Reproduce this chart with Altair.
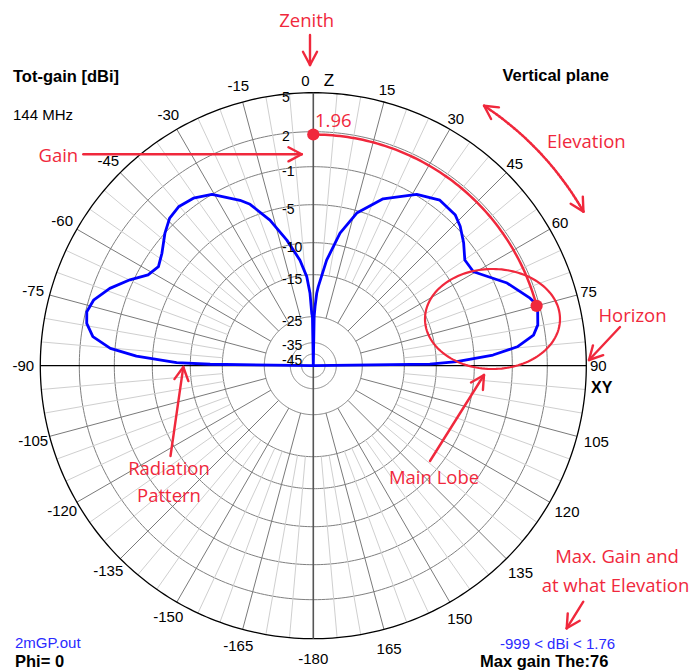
import math
import numpy as np
import pandas as pd
import altair as alt

# ---------------- data ----------------
# EZNEC log-scale rings (dBi) and their radius in pixels
RING_DBI = [5, 2, -1, -5, -10, -15, -25, -35, -45]
RING_PX = [273, 234, 199, 161, 123, 91, 49, 23, 11.7]

# Elevation pattern (angle from zenith, degrees; gain dBi), left half
ANG_LEFT = [-90, -89.2, -88.7, -86.9, -85.1, -82.5, -79.4, -76.6, -73.4, -69.2,
            -64.9, -61.2, -57.4, -53.4, -48.2, -44.2, -40.3, -35.6, -30.6, -23.9,
            -21.4, -16.6, -11.9, -7.2, -4.2, -2.6, -1.7, -1.0, 0]
GAIN_LEFT = [-999, -13.1, -8.2, -3.3, -0.6, 1.0, 1.7, 1.9, 1.6, 0.6,
             -0.7, -2.1, -2.6, -2.1, -1.0, -0.4, -0.2, -0.4, -1.0, -2.9,
             -3.7, -6.2, -9.3, -12.6, -15.4, -19.4, -24.2, -25.0, -999]
# right half
ANG_RIGHT = [1.0, 1.7, 2.7, 3.6, 7.2, 11.4, 15.9, 22.7, 31.1, 37.4, 43.2, 46.5,
             50.7, 55.1, 59.6, 66.9, 72.7, 75.0, 79.7, 82.1, 84.7, 86.6, 88.4,
             89.2, 90]
GAIN_RIGHT = [-25.0, -22.6, -19.4, -17.8, -12.6, -8.4, -5.3, -2.9, -0.9, -0.2, -0.3, -0.7,
              -1.5, -2.5, -2.4, 0.0, 1.4, 1.85, 1.5, 1.0, -0.5, -3.0, -7.3,
              -11.0, -999]

ANGLE_TICKS = [15, 30, 45, 60, 75, 90, 105, 120, 135, 150, 165, 180,
               -165, -150, -135, -120, -105, -90, -75, -60, -45, -30, -15]
MAX_GAIN = 1.76
MAX_GAIN_ANGLE = 75.0

# ---------------- layout ----------------
W, H = 683, 663
CX, CY = 313.3, 365.7          # page position of the pole
XDOM = [8 - CX, 8 + W - CX]
YDOM = [CY - 8 - H, CY - 8]
RED = "#f0283c"
BLUE = "#0000ff"
SANS = "Liberation Sans"
ANNO = "Open Sans"
RING_LABEL_DY = {-35: 7, -45: 11}   # the two innermost labels sit a little lower/higher


def db_to_r(db):
    xp = [-999] + RING_DBI[::-1]
    fp = [0] + RING_PX[::-1]
    return np.interp(db, xp, fp)


def polar(theta_deg, r):
    t = np.radians(theta_deg)
    return r * np.sin(t), r * np.cos(t)


def P(x, y):
    """page pixel -> chart coordinates"""
    return x - CX, CY - y


X = alt.X("x:Q", scale=alt.Scale(domain=XDOM, nice=False, zero=False), axis=None)
Y = alt.Y("y:Q", scale=alt.Scale(domain=YDOM, nice=False, zero=False), axis=None)

layers = []

# ---------------- grid ----------------
R_OUT = db_to_r(5)
ring_rows = []
for k, db in enumerate(RING_DBI):
    r = db_to_r(db)
    for i, t in enumerate(range(0, 361)):
        x, y = polar(t, r)
        ring_rows.append({"x": x, "y": y, "g": k, "i": i})
rings = pd.DataFrame(ring_rows)
layers.append(alt.Chart(rings[rings.g > 0]).mark_line(color="#808080", strokeWidth=1)
              .encode(X, Y, detail="g:N", order="i:Q"))

spk = []
for a in range(0, 360, 5):
    if a % 90 == 0:
        continue
    r1 = db_to_r(-25) if a % 15 == 0 else db_to_r(-15)
    x1, y1 = polar(a, r1)
    x2, y2 = polar(a, R_OUT)
    spk.append({"x": x1, "y": y1, "x2": x2, "y2": y2, "dark": a % 15 == 0})
spk = pd.DataFrame(spk)
layers.append(alt.Chart(spk[~spk.dark]).mark_rule(color="#cfcfcf", strokeWidth=1)
              .encode(X, Y, x2="x2:Q", y2="y2:Q"))
layers.append(alt.Chart(spk[spk.dark]).mark_rule(color="#7a7a7a", strokeWidth=1)
              .encode(X, Y, x2="x2:Q", y2="y2:Q"))
layers.append(alt.Chart(rings[rings.g == 0]).mark_line(color="#000000", strokeWidth=1.3)
              .encode(X, Y, detail="g:N", order="i:Q"))
layers.append(alt.Chart(pd.DataFrame([{"x": 0, "y": -R_OUT, "x2": 0, "y2": R_OUT}]))
              .mark_rule(color="#555555", strokeWidth=1.6).encode(X, Y, x2="x2:Q", y2="y2:Q"))
layers.append(alt.Chart(pd.DataFrame([{"x": -R_OUT, "y": 0, "x2": R_OUT, "y2": 0}]))
              .mark_rule(color="#000000", strokeWidth=1.2).encode(X, Y, x2="x2:Q", y2="y2:Q"))

# ---------------- pattern ----------------
ang = ANG_LEFT + ANG_RIGHT
gain = GAIN_LEFT + GAIN_RIGHT
px, py = polar(np.array(ang), db_to_r(np.array(gain)))
pat = pd.DataFrame({"x": px, "y": py, "i": range(len(ang))})
layers.append(alt.Chart(pat).mark_line(color=BLUE, strokeWidth=2.8, strokeJoin="round")
              .encode(X, Y, order="i:Q"))

# ---------------- red annotations: arc, ellipse, dots ----------------
r_max = db_to_r(MAX_GAIN)
arc_t = np.linspace(0, MAX_GAIN_ANGLE, 80)
ax_, ay_ = polar(arc_t, r_max)
layers.append(alt.Chart(pd.DataFrame({"x": ax_, "y": ay_, "i": range(80)}))
              .mark_line(color=RED, strokeWidth=2.5).encode(X, Y, order="i:Q"))

ecx, ecy = P(492.5, 319.0)
tt = np.linspace(0, 2 * np.pi, 150)
layers.append(alt.Chart(pd.DataFrame({"x": ecx + 67.5 * np.cos(tt), "y": ecy + 50 * np.sin(tt),
                                      "i": range(150)}))
              .mark_line(color=RED, strokeWidth=2.2).encode(X, Y, order="i:Q"))

dx0, dy0 = polar(np.array([0.0, MAX_GAIN_ANGLE]), r_max)
layers.append(alt.Chart(pd.DataFrame({"x": dx0, "y": dy0}))
              .mark_point(color=RED, filled=True, opacity=1, size=150, shape="circle")
              .encode(X, Y))


# arrows (page coordinates)
def head(tip, prev, L=15.0, a=28.0):
    ddx, ddy = tip[0] - prev[0], tip[1] - prev[1]
    n = math.hypot(ddx, ddy)
    ux, uy = ddx / n, ddy / n
    out = []
    for s in (1, -1):
        an = math.radians(s * a)
        rx = ux * math.cos(an) - uy * math.sin(an)
        ry = ux * math.sin(an) + uy * math.cos(an)
        out.append((tip[0] - L * rx, tip[1] - L * ry))
    return out


segs = []


def seg(p, q):
    x1, y1 = P(*p)
    x2, y2 = P(*q)
    segs.append({"x": x1, "y": y1, "x2": x2, "y2": y2})


ARROWS = [((310, 35), (310, 65)),          # Zenith
          ((83.3, 154.3), (301.7, 154.3)),  # Gain
          ((620, 327), (589, 360)),         # Horizon
          ((430, 461), (484, 375)),         # Main Lobe
          ((170.5, 456), (183.3, 367)),     # Radiation pattern
          ((583.3, 601.7), (566.7, 628.3))]  # Max gain
for tail, tip in ARROWS:
    seg(tail, tip)
    for h in head(tip, tail):
        seg(tip, h)

# curved Elevation arrow (arc around the pole)
el_t = np.linspace(33.3, 60.3, 40)
ex, ey = polar(el_t, 311.0)
el_page = [(CX + a, CY - b) for a, b in zip(ex, ey)]
for p, q in zip(el_page[:-1], el_page[1:]):
    seg(p, q)
for h in head(el_page[0], el_page[2]):
    seg(el_page[0], h)
for h in head(el_page[-1], el_page[-3]):
    seg(el_page[-1], h)

layers.append(alt.Chart(pd.DataFrame(segs)).mark_rule(color=RED, strokeWidth=2.4, strokeCap="round")
              .encode(X, Y, x2="x2:Q", y2="y2:Q"))


# ---------------- texts ----------------
def text_layer(rows, **kw):
    df = pd.DataFrame([{"x": P(a, b)[0], "y": P(a, b)[1], "text": t} for t, a, b in rows])
    return alt.Chart(df).mark_text(**kw).encode(X, Y, text="text:N")


# angle tick labels (centres)
lab = []
for a in ANGLE_TICKS:
    if a > 0:
        rr = 285 if a <= 90 else 293
    else:
        rr = 290
    lx, ly = polar(a, rr)
    lab.append({"x": lx, "y": ly, "text": "-180" if a == 180 else str(a)})
layers.append(alt.Chart(pd.DataFrame(lab)).mark_text(font=SANS, fontSize=15, color="black",
                                                     align="center", baseline="middle")
              .encode(X, Y, text="text:N"))

# ring labels
rl = []
for db in RING_DBI:
    r = db_to_r(db)
    rl.append((str(db), 282, CY - r + RING_LABEL_DY.get(db, 9)))
layers.append(text_layer(rl, font=SANS, fontSize=14, color="black", align="left", baseline="alphabetic"))

layers.append(text_layer([("0", 305.5, 86)], font=SANS, fontSize=15, color="black",
                         align="center", baseline="alphabetic"))
layers.append(text_layer([("Z", 329, 86)], font=SANS, fontSize=17, color="black",
                         align="center", baseline="alphabetic"))
layers.append(text_layer([("XY", 601.7, 393)], font=SANS, fontSize=16, fontWeight="bold",
                         color="black", align="center", baseline="alphabetic"))

layers.append(text_layer([("144 MHz", 13, 120)], font=SANS, fontSize=15, color="black",
                         align="left", baseline="alphabetic"))
layers.append(text_layer([("Tot-gain [dBi]", 13, 82), ("Vertical plane", 502.5, 81),
                          ("Phi= 0", 15, 667), ("Max gain The:76", 480, 667)],
                         font=SANS, fontSize=16.5, fontWeight="bold", color="black",
                         align="left", baseline="alphabetic"))
layers.append(text_layer([("2mGP.out", 15, 648), ("-999 < dBi < 1.76", 500, 649)],
                         font=SANS, fontSize=15, color="#2a2aff", align="left", baseline="alphabetic"))

layers.append(text_layer([("Zenith", 306.7, 27), ("Gain", 58.3, 161.7), ("1.96", 333.3, 126.7),
                          ("Elevation", 586.3, 148), ("Horizon", 632.5, 321.5),
                          ("Main Lobe", 434, 484), ("Radiation", 169, 475), ("Pattern", 169, 502),
                          ("Max. Gain and", 617, 563), ("at what Elevation", 615.5, 591.7)],
                         font=ANNO, fontSize=18.5, color=RED, align="center", baseline="alphabetic"))

chart = (alt.layer(*layers)
         .properties(width=W, height=H, padding=0, autosize="none", background="white")
         .configure_view(stroke=None))

chart.save("out.html", embed_options={"renderer": "svg", "actions": False})
